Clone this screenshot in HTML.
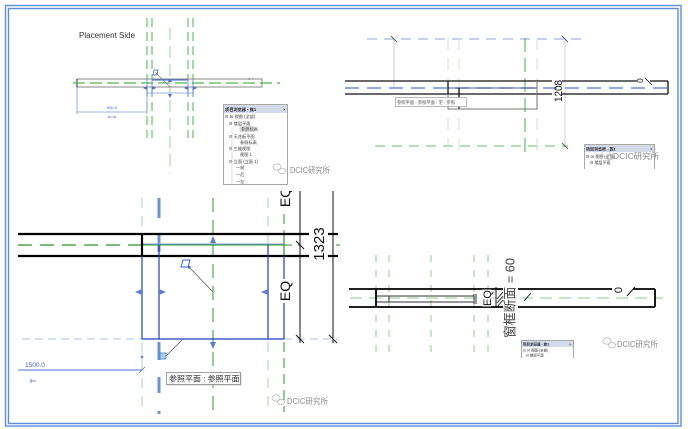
<!DOCTYPE html>
<html><head><meta charset="utf-8">
<style>
html,body{margin:0;padding:0;background:#fff;}
svg{display:block;}
text{font-family:"Liberation Sans","Noto Sans CJK SC",sans-serif;}
</style></head>
<body>
<svg width="692" height="429" viewBox="0 0 692 429" xmlns="http://www.w3.org/2000/svg">
<defs>
<clipPath id="clipBL"><rect x="0" y="191" width="692" height="238"/></clipPath>
</defs>
<rect x="0" y="0" width="692" height="429" fill="#fff"/>

<!-- ============ TOP-LEFT PANEL ============ -->
<text x="79" y="38" font-size="8" fill="#333">Placement Side</text>
<g stroke="#4db64d" stroke-width="1" stroke-dasharray="9 5">
<line x1="147" y1="18" x2="147" y2="138"/>
<line x1="152" y1="18" x2="152" y2="138"/>
<line x1="188" y1="18" x2="188" y2="138"/>
<line x1="193" y1="18" x2="193" y2="138"/>
</g>
<line x1="170" y1="28" x2="170" y2="173" stroke="#a9dca9" stroke-width="1.2" stroke-dasharray="12 6"/>
<rect x="77" y="79" width="185" height="8" fill="#fff" stroke="#8a8a8a" stroke-width="1"/>
<line x1="77" y1="79" x2="77" y2="87" stroke="#222" stroke-width="1"/>
<line x1="73" y1="83" x2="280" y2="83" stroke="#4db64d" stroke-width="1.2" stroke-dasharray="12 5"/>
<line x1="152" y1="80" x2="188" y2="80" stroke="#3a66d0" stroke-width="1"/>
<line x1="147" y1="93" x2="193" y2="93" stroke="#9fb4e6" stroke-width="1"/>
<g stroke="#5a82d6" stroke-width="0.8">
<line x1="147" y1="79" x2="147" y2="96"/><line x1="152" y1="79" x2="152" y2="96"/>
<line x1="188" y1="79" x2="188" y2="96"/><line x1="193" y1="79" x2="193" y2="96"/>
</g>
<g fill="#4a72d0">
<polygon points="147,86 147,90 143,88"/><polygon points="152,86 152,90 156,88"/>
<polygon points="188,86 188,90 184,88"/><polygon points="193,86 193,90 197,88"/>
<polygon points="168,82 172,82 170,78"/><polygon points="168,94 172,94 170,98"/>
</g>
<line x1="156" y1="73" x2="170" y2="87" stroke="#777" stroke-width="0.6"/>
<path d="M154 70 L158 70 L157 75 L153 75 Z" fill="none" stroke="#3a66d0" stroke-width="0.8"/>
<g stroke="#7a98dc" stroke-width="0.8">
<line x1="77" y1="87" x2="77" y2="114"/><line x1="147" y1="96" x2="147" y2="114"/>
<line x1="77" y1="112" x2="147" y2="112"/>
</g>
<text x="112" y="109" font-size="4" fill="#3a5fcd" text-anchor="middle">600.0</text>
<path d="M109 115.5 L109 118.5 M109 117 L115 117 M115 115.5 L115 118.5" stroke="#3a5fcd" stroke-width="0.6"/>
<text x="248" y="80" font-size="4" fill="#888">0 ⟍</text>

<!-- project browser TL -->
<rect x="223.5" y="104.5" width="64" height="80" fill="#fff" stroke="#a8a8a8" stroke-width="1"/>
<rect x="224" y="105" width="63" height="8" fill="#d3dbe8"/>
<text x="225" y="111" font-size="4.2" font-weight="bold" fill="#223">项目浏览器 - 族1</text>
<text x="283" y="111" font-size="4.5" fill="#333">×</text>
<g font-size="4.2" fill="#333">
<text x="225" y="118">⊟ ☒ 视图 (全部)</text>
<text x="229" y="125">⊟ 楼层平面</text>
<rect x="240" y="126.5" width="14" height="5" fill="#e8e8e8" stroke="#aaa" stroke-width="0.4"/>
<text x="241" y="130.5">参照标高</text>
<text x="229" y="138">⊟ 天花板平面</text>
<text x="240" y="144">参照标高</text>
<text x="229" y="150">⊟ 三维视图</text>
<text x="240" y="156">视图 1</text>
<text x="229" y="163">⊟ 立面 (立面 1)</text>
<text x="236" y="169">—前</text>
<text x="236" y="176">—后</text>
<text x="236" y="183">—左</text>
</g>
<line x1="232" y1="127" x2="232" y2="184" stroke="#bbb" stroke-width="0.5"/>
<!-- watermark TL -->
<g fill="none" stroke="#bbb" stroke-width="0.8">
<ellipse cx="277" cy="167" rx="4" ry="3.2"/><ellipse cx="282" cy="171" rx="3.5" ry="2.8"/>
</g>
<text x="290" y="173" font-size="8" fill="#8a8a8a" textLength="40" lengthAdjust="spacingAndGlyphs">DCIC研究所</text>

<!-- ============ TOP-RIGHT PANEL ============ -->
<line x1="367" y1="39" x2="583" y2="39" stroke="#8aa6e2" stroke-width="1" stroke-dasharray="10 7"/>
<line x1="394" y1="39" x2="394" y2="88" stroke="#c8c8c8" stroke-width="1"/>
<line x1="565" y1="39" x2="565" y2="145" stroke="#d2d2d2" stroke-width="1"/>
<line x1="375" y1="146" x2="568" y2="146" stroke="#66c266" stroke-width="1" stroke-dasharray="10 7"/>
<path d="M391 36 L397 42 M562 36 L568 42 M562 143 L568 149" stroke="#333" stroke-width="0.8"/>
<g stroke="#cfe6cf" stroke-width="1" stroke-dasharray="12 8">
<line x1="448" y1="38" x2="448" y2="158"/><line x1="459" y1="38" x2="459" y2="158"/><line x1="537" y1="38" x2="537" y2="158"/>
</g>
<line x1="525" y1="38" x2="525" y2="158" stroke="#44b044" stroke-width="1" stroke-dasharray="14 6"/>
<line x1="345" y1="88" x2="668" y2="88" stroke="#6a8edb" stroke-width="1.4" stroke-dasharray="14 8"/>
<line x1="448" y1="88" x2="537" y2="88" stroke="#4a5f9a" stroke-width="1"/>
<g stroke="#111" stroke-width="1.3">
<line x1="345" y1="81" x2="552" y2="81"/><line x1="562" y1="81" x2="637" y2="81"/><line x1="650" y1="81" x2="668" y2="81"/>
<line x1="345" y1="94" x2="552" y2="94"/><line x1="562" y1="94" x2="668" y2="94"/>
<line x1="668" y1="81" x2="668" y2="94"/>
<line x1="448" y1="81" x2="448" y2="94"/>
<line x1="459" y1="88" x2="459" y2="109"/>
</g>
<g stroke="#777" stroke-width="1">
<line x1="448" y1="94" x2="448" y2="109"/><line x1="448" y1="109" x2="537" y2="109"/><line x1="537" y1="81" x2="537" y2="109"/>
</g>
<rect x="395.5" y="97.5" width="71" height="9" fill="#fff" stroke="#aaa" stroke-width="0.8"/>
<text x="397" y="104" font-size="4.3" fill="#555">参照平面 : 参照平面 : 宅 : 参照</text>
<text transform="translate(562,91) rotate(-90)" font-size="11" text-anchor="middle" fill="#111" textLength="22" lengthAdjust="spacingAndGlyphs">1208</text>
<text transform="translate(643,80.5) rotate(-90)" font-size="8" text-anchor="middle" fill="#111">0</text>
<line x1="645" y1="78" x2="652" y2="85" stroke="#111" stroke-width="0.8"/>
<!-- small browser TR -->
<rect x="584.5" y="144.5" width="70" height="26" fill="#fff" stroke="#a8a8a8" stroke-width="1"/>
<rect x="585" y="145" width="69" height="7" fill="#d3dbe8"/>
<text x="586" y="150.5" font-size="4" font-weight="bold" fill="#223">项目浏览器 - 族1</text>
<text x="650" y="150.5" font-size="4.5" fill="#333">×</text>
<text x="586" y="158" font-size="4" fill="#333">⊟ ☒ 视图 (全部)</text>
<text x="590" y="164" font-size="4" fill="#333">⊟ 楼层平面</text>
<rect x="582" y="169" width="80" height="6" fill="#fff"/>
<g fill="none" stroke="#bbb" stroke-width="0.8">
<ellipse cx="606" cy="153" rx="4" ry="3.2"/><ellipse cx="610" cy="157" rx="3.5" ry="2.8"/>
</g>
<text x="613" y="159" font-size="8" fill="#8a8a8a" textLength="46" lengthAdjust="spacingAndGlyphs">DCIC研究所</text>

<!-- ============ BOTTOM-LEFT PANEL ============ -->
<g clip-path="url(#clipBL)">
<g stroke="#a9d6a9" stroke-width="1" stroke-dasharray="10 8">
<line x1="142" y1="198" x2="142" y2="234"/><line x1="142" y1="342" x2="142" y2="412"/>
<line x1="268" y1="198" x2="268" y2="245"/><line x1="268" y1="342" x2="268" y2="412"/>
</g>
<line x1="213" y1="198" x2="213" y2="412" stroke="#2a962a" stroke-width="1" stroke-dasharray="14 8"/>
<line x1="284" y1="198" x2="284" y2="234" stroke="#2a962a" stroke-width="1" stroke-dasharray="10 6"/>
<line x1="284" y1="342" x2="284" y2="412" stroke="#2a962a" stroke-width="1" stroke-dasharray="10 6"/>
<line x1="284" y1="234" x2="284" y2="256" stroke="#2a962a" stroke-width="1.2"/>
<!-- thick blue dashed ref plane -->
<g stroke="#6f8fd8" stroke-width="3">
<line x1="159" y1="198" x2="159" y2="218"/><line x1="159" y1="234" x2="159" y2="252"/>
<line x1="159" y1="342" x2="159" y2="360"/><line x1="159" y1="377" x2="159" y2="393"/>
<line x1="159" y1="411" x2="159" y2="414"/>
</g>
<!-- horizontal light dashed -->
<line x1="22" y1="339" x2="142" y2="339" stroke="#a6c6e0" stroke-width="1" stroke-dasharray="8 5"/>
<line x1="284" y1="339" x2="338" y2="339" stroke="#a6c6e0" stroke-width="1" stroke-dasharray="8 5"/>
<!-- wall -->
<line x1="18" y1="245" x2="142" y2="245" stroke="#2a962a" stroke-width="1.2" stroke-dasharray="14 8"/>
<line x1="142" y1="245" x2="284" y2="245" stroke="#2a962a" stroke-width="1"/>
<line x1="142" y1="244" x2="284" y2="244" stroke="#7c9ce6" stroke-width="1"/>
<line x1="284" y1="245" x2="300" y2="245" stroke="#2a962a" stroke-width="1" stroke-dasharray="8 6"/>
<line x1="336" y1="245" x2="340" y2="245" stroke="#2a962a" stroke-width="1"/>
<g stroke="#000" stroke-width="2.2">
<line x1="18" y1="234" x2="309" y2="234"/><line x1="328" y1="234" x2="338" y2="234"/>
<line x1="18" y1="256" x2="309" y2="256"/><line x1="328" y1="256" x2="338" y2="256"/>
<line x1="142" y1="234" x2="142" y2="256"/>
</g>
<!-- blue rectangle -->
<g stroke="#1f3fc4" stroke-width="1.2">
<line x1="142" y1="256" x2="142" y2="339"/><line x1="159" y1="245" x2="159" y2="339"/>
<line x1="268" y1="245" x2="268" y2="339"/><line x1="284" y1="256" x2="284" y2="339"/>
<line x1="142" y1="339" x2="284" y2="339"/>
</g>
<g fill="#5a7ed4">
<polygon points="210,243 216,243 213,236"/><polygon points="210,342 216,342 213,349"/>
<polygon points="142,289 142,295 135,292"/><polygon points="159,289 159,295 166,292"/>
<polygon points="268,289 268,295 261,292"/><polygon points="284,289 284,295 291,292"/>
</g>
<line x1="190" y1="268" x2="213" y2="292" stroke="#555" stroke-width="0.7"/>
<path d="M183 260 L190 260 L188 267 L181 267 Z" fill="none" stroke="#3a62d0" stroke-width="1"/>
<rect x="188" y="266" width="2.5" height="2.5" fill="#3a62d0"/>
<line x1="166" y1="356" x2="182" y2="340" stroke="#555" stroke-width="0.7"/>
<rect x="160" y="353" width="6" height="6" fill="#a8d0f0" stroke="#5080d0" stroke-width="0.8"/>
<line x1="142" y1="342" x2="142" y2="372" stroke="#b8c8e0" stroke-width="0.8" stroke-dasharray="3 2"/>
<circle cx="142" cy="357" r="1.5" fill="#7a9ad8"/>
<line x1="18" y1="370" x2="142" y2="370" stroke="#4a72d8" stroke-width="1"/>
<line x1="139" y1="373" x2="145" y2="367" stroke="#4a72d8" stroke-width="0.8"/>
<text x="25" y="367" font-size="6.5" fill="#3a5fcd">1500.0</text>
<path d="M31 379 L31 383 M31 381 L36 381" stroke="#4a72d8" stroke-width="0.8"/>
<rect x="167.5" y="373.5" width="74" height="12" fill="#ccc"/>
<rect x="166.5" y="372.5" width="74" height="12" fill="#fff" stroke="#888" stroke-width="0.8"/>
<text x="169" y="381.5" font-size="8" fill="#333">参照平面 : 参照平面</text>
<!-- dimension -->
<line x1="300" y1="190" x2="300" y2="343" stroke="#111" stroke-width="1"/>
<line x1="333" y1="190" x2="333" y2="343" stroke="#111" stroke-width="1"/>
<path d="M296 335 L304 343 M329 335 L337 343 M296 241 L304 249" stroke="#111" stroke-width="1"/>
<rect x="310" y="226" width="17" height="36" fill="#fff"/>
<text transform="translate(324,244) rotate(-90)" font-size="15" text-anchor="middle" fill="#111">1323</text>
<rect x="279" y="279" width="12" height="24" fill="#fff"/>
<text transform="translate(290,291) rotate(-90)" font-size="14" text-anchor="middle" fill="#111">EQ</text>
<rect x="279" y="186" width="12" height="23" fill="#fff"/>
<text transform="translate(290,197) rotate(-90)" font-size="14" text-anchor="middle" fill="#111">EQ</text>
</g>
<g fill="none" stroke="#bbb" stroke-width="0.8">
<ellipse cx="276" cy="398" rx="4" ry="3.2"/><ellipse cx="281" cy="402" rx="3.5" ry="2.8"/>
</g>
<text x="287" y="404" font-size="8" fill="#8a8a8a" textLength="41" lengthAdjust="spacingAndGlyphs">DCIC研究所</text>

<!-- ============ BOTTOM-RIGHT PANEL ============ -->
<g stroke="#8ccf8c" stroke-width="1" stroke-dasharray="7 8">
<line x1="376" y1="255" x2="376" y2="357"/><line x1="389" y1="255" x2="389" y2="357"/>
<line x1="431" y1="255" x2="431" y2="357"/><line x1="474" y1="255" x2="474" y2="357"/>
<line x1="488" y1="255" x2="488" y2="357"/>
</g>
<line x1="350" y1="298" x2="663" y2="298" stroke="#8ccf8c" stroke-width="1" stroke-dasharray="12 7"/>
<g stroke="#333" stroke-width="1">
<line x1="376" y1="296" x2="474" y2="296"/><line x1="376" y1="302" x2="474" y2="302"/>
<line x1="389" y1="296" x2="389" y2="302"/><line x1="474" y1="294" x2="474" y2="304"/>
<line x1="476" y1="294" x2="476" y2="304"/>
</g>
<g stroke="#000" stroke-width="1.8">
<line x1="349" y1="289" x2="503" y2="289"/><line x1="518" y1="289" x2="612" y2="289"/><line x1="633" y1="289" x2="655" y2="289"/>
<line x1="349" y1="307" x2="503" y2="307"/><line x1="518" y1="307" x2="655" y2="307"/>
<line x1="655" y1="289" x2="655" y2="307"/>
<line x1="376" y1="289" x2="376" y2="307"/>
</g>
<line x1="496" y1="287" x2="496" y2="307" stroke="#111" stroke-width="1"/>
<path d="M497 299 L503 292 M497 303 L503 296 M497 307 L503 300 M524 301 L531 293" stroke="#111" stroke-width="0.9"/>
<rect x="482" y="289.5" width="9" height="17" fill="#fff"/>
<text transform="translate(491,298) rotate(-90)" font-size="11" text-anchor="middle" fill="#111">EQ</text>
<rect x="504" y="257" width="13" height="82" fill="#fff"/>
<text transform="translate(514.5,298) rotate(-90)" font-size="13" text-anchor="middle" fill="#444" textLength="80" lengthAdjust="spacingAndGlyphs">窗框断面 = 60</text>
<text transform="translate(622,290) rotate(-90)" font-size="11" text-anchor="middle" fill="#111">0</text>
<line x1="627" y1="296" x2="635" y2="287" stroke="#111" stroke-width="1"/>
<!-- small browser BR -->
<rect x="521.5" y="340.5" width="52" height="20" fill="#fff" stroke="#a8a8a8" stroke-width="1"/>
<rect x="522" y="341" width="51" height="6" fill="#d3dbe8"/>
<text x="523" y="345.5" font-size="3.5" font-weight="bold" fill="#223">项目浏览器 - 族1</text>
<text x="569" y="345.5" font-size="4" fill="#333">×</text>
<text x="523" y="351.5" font-size="3.5" fill="#333">⊟ ☒ 视图 (全部)</text>
<text x="526" y="356.5" font-size="3.5" fill="#333">⊟ 楼层平面</text>
<rect x="519" y="358" width="58" height="5" fill="#fff"/>
<g fill="none" stroke="#bbb" stroke-width="0.8">
<ellipse cx="607" cy="341" rx="4" ry="3.2"/><ellipse cx="612" cy="345" rx="3.5" ry="2.8"/>
</g>
<text x="617" y="347" font-size="8" fill="#8a8a8a" textLength="41" lengthAdjust="spacingAndGlyphs">DCIC研究所</text>

<!-- ============ FRAME ============ -->
<rect x="5.5" y="5.5" width="675.5" height="420.5" fill="none" stroke="#5b8ee0" stroke-width="1.4"/>
<rect x="8.5" y="8.5" width="669.5" height="415" fill="none" stroke="#5b8ee0" stroke-width="1.4"/>
</svg>
</body></html>
